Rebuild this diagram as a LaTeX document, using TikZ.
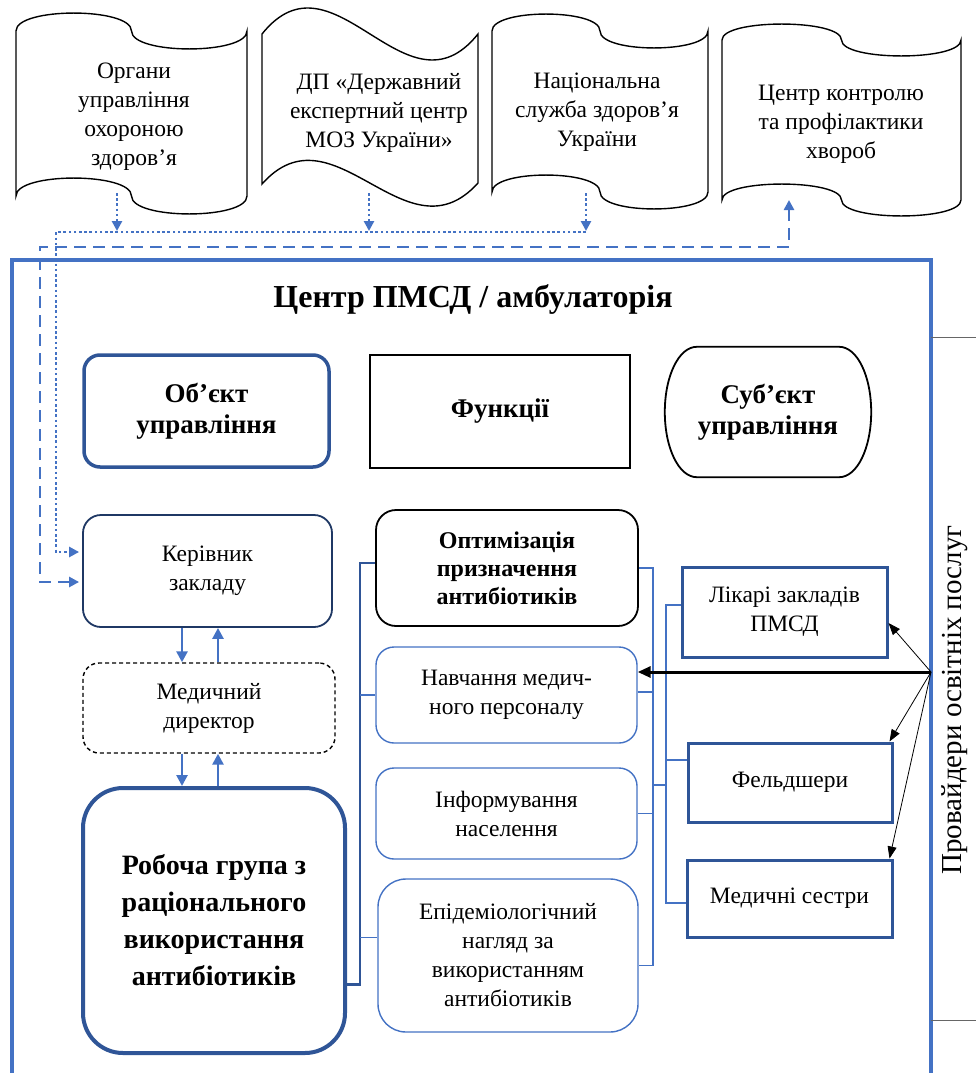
\documentclass[tikz,border=0pt]{standalone}
\usepackage{fontspec}
\setmainfont{Liberation Serif}
\usetikzlibrary{arrows.meta}
\definecolor{pmsdblue}{RGB}{68,114,196}
\definecolor{pmsddark}{RGB}{47,85,151}
\definecolor{pmsdnavy}{RGB}{31,56,100}
\newcommand{\pmsdtext}{\fontsize{23.5}{29}\selectfont}
\newcommand{\pmsdhead}{\fontsize{27}{31}\selectfont\bfseries}
\newcommand{\pmsdopt}{\fontsize{24}{28}\selectfont\bfseries}
\newcommand{\pmsdbig}{\fontsize{28}{37}\selectfont\bfseries}
\newcommand{\pmsdtitle}{\fontsize{32}{36}\selectfont\bfseries}
\tikzstyle{docshape} = [draw=black, line width=1.4pt, fill=white]
\tikzstyle{doctext} = [align=center, font=\pmsdtext, inner sep=0pt]
\tikzstyle{mainbox} = [rectangle, align=center, inner sep=0pt, fill=white]
\tikzstyle{fnbox} = [mainbox, draw=pmsdblue, line width=1.4pt, rounded corners=18pt, font=\pmsdtext]
\tikzstyle{staffbox} = [mainbox, draw=pmsddark, line width=3pt, font=\pmsdtext]
\tikzstyle{brkthick} = [pmsddark, line width=2.6pt]
\tikzstyle{brkthin} = [pmsdblue, line width=1.8pt]
\tikzstyle{updown} = [pmsdblue, line width=2.6pt, -{Triangle[length=11pt,width=11pt]}]
\tikzstyle{dotlink} = [pmsdblue, line width=2.8pt, dash pattern=on 2.6pt off 2.6pt]
\tikzstyle{dashlink} = [pmsdblue, line width=2.6pt, dash pattern=on 12pt off 7pt]
\tikzstyle{bluetip} = [-{Triangle[length=10pt,width=10pt]}]
% punched tape: x0, x1, top, bottom, wave
\newcommand{\pmsdtape}[5]{%
  \draw[docshape] (#1,#3)
    .. controls (#1,{#3-1.33*#5}) and ({(#1+#2)/2},{#3-1.33*#5}) .. ({(#1+#2)/2},#3)
    .. controls ({(#1+#2)/2},{#3+1.33*#5}) and (#2,{#3+1.33*#5}) .. (#2,#3)
    -- (#2,#4)
    .. controls (#2,{#4+1.33*#5}) and ({(#1+#2)/2},{#4+1.33*#5}) .. ({(#1+#2)/2},#4)
    .. controls ({(#1+#2)/2},{#4-1.33*#5}) and (#1,{#4-1.33*#5}) .. (#1,#4)
    -- cycle;}

\begin{document}
\begin{tikzpicture}[x=1pt, y=-1pt]
  \useasboundingbox (0,0) rectangle (976,1073);

  % Outer bodies
  \pmsdtape{16}{247}{31}{196}{18}
  \draw[docshape] (262,34) .. controls (334,-56) and (406,124) .. (478,34)
    -- (478,183) .. controls (406,263) and (334,103) .. (262,184) -- cycle;
  \pmsdtape{492}{708}{31}{192}{17}
  \pmsdtape{722}{961}{40}{200}{16}

  \node[doctext] (organy) at (134,117) {Органи\\управління\\охороною\\здоров’я};
  \node[doctext] (dp) at (379,113) {ДП «Державний\\експертний центр\\МОЗ України»};
  \node[doctext] (nszu) at (597,112) {Національна\\служба здоров’я\\України};
  \node[doctext] (ckpx) at (841,124) {Центр контролю\\та профілактики\\хвороб};

  \coordinate (doc1out) at (117,193);
  \coordinate (doc2out) at (369,193);
  \coordinate (doc3out) at (586,193);
  \coordinate (doc4out) at (789,200);
  \coordinate (bus) at (56,232);
  \coordinate (dashc) at (40,247);

  % Frame of the centre
  \draw[pmsdblue, line width=3.5pt] (12,1090) -- (12,260) -- (931,260) -- (931,1090);
  \draw[black!60, line width=1pt] (931,337) -- (990,337);
  \draw[black!60, line width=1pt] (931,1020) -- (990,1020);
  \node[font=\pmsdtitle] (title) at (473,299) {Центр ПМСД / амбулаторія};
  \node[rotate=90, font=\fontsize{29}{33}\selectfont] (prov) at (955,700) {Провайдери освітніх послуг};
  \coordinate (provin) at (931,672);

  % Headers
  \node[mainbox, draw=pmsddark, line width=3.5pt, rounded corners=16pt,
        minimum width=245pt, minimum height=112pt, font=\pmsdhead] (objekt) at (206.5,411) {Об’єкт\\управління};
  \node[mainbox, draw=black, line width=1.4pt,
        minimum width=260pt, minimum height=113pt, font=\pmsdhead] (funkcii) at (500,411.5) {Функції};
  \node[mainbox, minimum width=206pt, minimum height=130pt, font=\pmsdhead] (subjekt) at (768,412) {Суб’єкт\\управління};
  \draw[line width=1.8pt] ([xshift=32pt]subjekt.north west) -- ([xshift=-32pt]subjekt.north east)
    .. controls ([xshift=-14pt]subjekt.north east) and ([yshift=36pt]subjekt.east) .. (subjekt.east)
    .. controls ([yshift=-36pt]subjekt.east) and ([xshift=-14pt]subjekt.south east) .. ([xshift=-32pt]subjekt.south east)
    -- ([xshift=32pt]subjekt.south west)
    .. controls ([xshift=14pt]subjekt.south west) and ([yshift=-36pt]subjekt.west) .. (subjekt.west)
    .. controls ([yshift=36pt]subjekt.west) and ([xshift=14pt]subjekt.north west) .. cycle;

  % Object column
  \node[mainbox, draw=pmsdnavy, line width=1.8pt, rounded corners=18pt,
        minimum width=249pt, minimum height=112pt, font=\pmsdtext] (kerivnyk) at (207.5,571) {Керівник\\закладу};
  \node[mainbox, draw=black, line width=1.4pt, dash pattern=on 4pt off 3pt, rounded corners=16pt,
        minimum width=252pt, minimum height=90pt, font=\pmsdtext] (medic) at (209,708) {Медичний\\директор};
  \node[mainbox, draw=pmsddark, line width=4pt, rounded corners=40pt,
        minimum width=262pt, minimum height=265pt, font=\pmsdbig] (robocha) at (214,920.5)
        {Робоча група з\\раціонального\\використання\\антибіотиків};

  % Functions
  \node[mainbox, draw=black, line width=1.8pt, rounded corners=20pt,
        minimum width=262pt, minimum height=116pt, font=\pmsdopt] (optym) at (507,568)
        {Оптимізація\\призначення\\антибіотиків};
  \node[fnbox, minimum width=261pt, minimum height=96pt] (navch) at (506.5,695) {Навчання медич-\\ного персоналу};
  \node[fnbox, minimum width=261pt, minimum height=91pt] (inform) at (506.5,813.5) {Інформування\\населення};
  \node[fnbox, rounded corners=28pt, minimum width=260pt, minimum height=153pt] (epid) at (508,955.5)
        {Епідеміологічний\\нагляд за\\використанням\\антибіотиків};

  % Staff
  \node[staffbox, minimum width=205pt, minimum height=90pt] (likari) at (784.5,612) {Лікарі закладів\\ПМСД};
  \node[staffbox, minimum width=204pt, minimum height=79pt] (feld) at (790,782.5) {Фельдшери};
  \node[staffbox, minimum width=205pt, minimum height=77pt] (sestry) at (789.5,898.5) {Медичні сестри};

  % Brackets
  \coordinate (lbr) at (360,0);
  \coordinate (rbr) at (653,785);
  \coordinate (sbr) at (666,785);
  \draw[brkthick] ([yshift=-64pt]robocha.east) -| ([yshift=5pt]optym.west -| lbr) -- ([yshift=5pt]optym.west);
  \draw[brkthin] (navch.west -| lbr) -- (navch.west);
  \draw[brkthin] ([yshift=18pt]epid.west -| lbr) -- ([yshift=18pt]epid.west);
  \draw[brkthin] (optym.east) -| ([yshift=-10pt]epid.east -| rbr) -- ([yshift=-10pt]epid.east);
  \draw[brkthin] ([yshift=3pt]navch.east) -- ([yshift=3pt]navch.east -| rbr);
  \draw[brkthin] (inform.east) -- (inform.east -| rbr);
  \draw[brkthin] (rbr) -- (sbr);
  \draw[brkthin] ([yshift=7pt]likari.west) -| ([yshift=-4.5pt]sestry.west -| sbr) -- ([yshift=-4.5pt]sestry.west);
  \draw[brkthin] ([yshift=22.5pt]feld.west) -- ([yshift=22.5pt]feld.west -| sbr);

  % Between object boxes
  \draw[updown] ([xshift=-25.5pt]kerivnyk.south) -- ([xshift=-25.5pt]kerivnyk.south |- medic.north);
  \draw[updown] ([xshift=10.5pt]kerivnyk.south |- medic.north) -- ([xshift=10.5pt]kerivnyk.south);
  \draw[updown] ([xshift=-27pt]medic.south) -- ([xshift=-27pt]medic.south |- robocha.north);
  \draw[updown] ([xshift=9pt]medic.south |- robocha.north) -- ([xshift=9pt]medic.south);

  % Outer links
  \draw[dotlink, bluetip] (doc1out) -- ([yshift=1pt]doc1out |- bus);
  \draw[dotlink, bluetip] (doc2out) -- ([yshift=1pt]doc2out |- bus);
  \draw[dotlink, bluetip] (doc3out) -- ([yshift=1pt]doc3out |- bus);
  \draw[dotlink, bluetip, shorten >=3pt] (doc3out |- bus) -- (bus) |- ([yshift=19pt]kerivnyk.west);
  \draw[dashlink, {Triangle[length=10pt,width=10pt]}-{Triangle[length=10pt,width=10pt]}, shorten >=3pt]
    (doc4out) |- (dashc) |- ([yshift=-11pt]kerivnyk.west);

  % Providers
  \draw[line width=3pt, -{Triangle[length=13pt,width=11pt]}] (provin) -- (provin -| navch.east);
  \draw[line width=0.8pt, -{Triangle[length=12pt,width=9pt]}] (provin) -- ([yshift=-11pt]likari.east);
  \draw[line width=0.8pt, -{Triangle[length=12pt,width=9pt]}] (provin) -- ([xshift=-4pt]feld.north east);
  \draw[line width=0.8pt, -{Triangle[length=12pt,width=9pt]}] (provin) -- ([xshift=-4pt]sestry.north east);
\end{tikzpicture}
\end{document}
